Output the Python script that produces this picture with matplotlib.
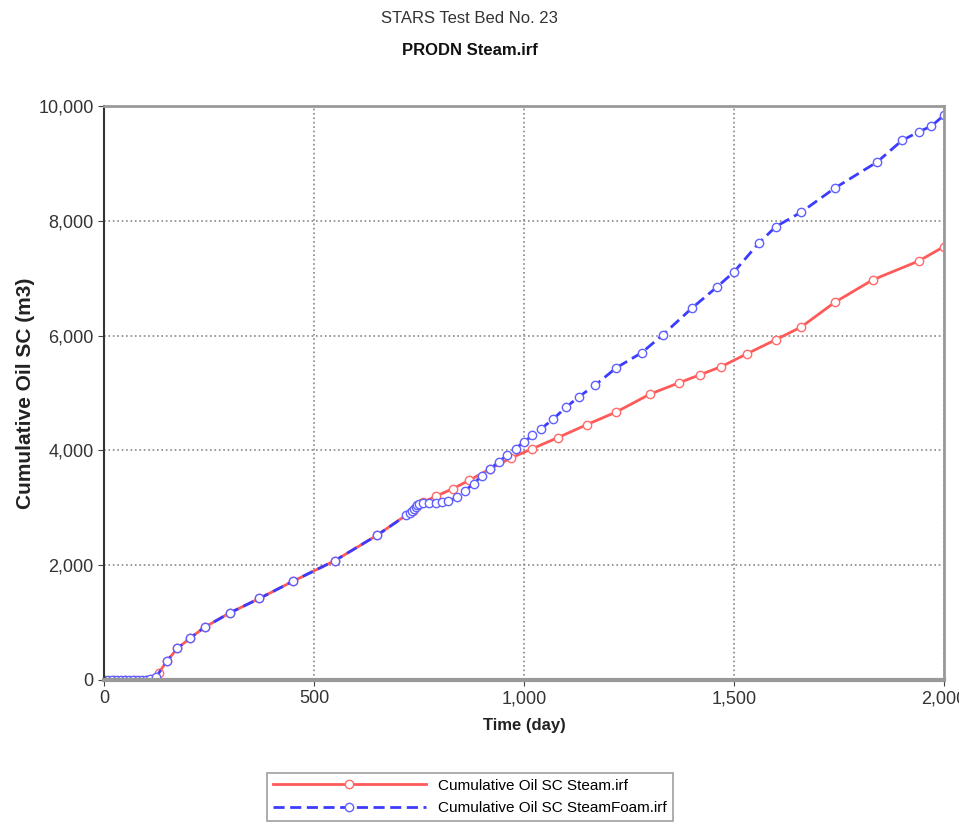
import matplotlib
matplotlib.use('Agg')
import matplotlib.pyplot as plt
from matplotlib.ticker import FuncFormatter, MultipleLocator

plt.rcParams['font.family'] = ['Liberation Sans', 'DejaVu Sans']

# Cumulative Oil SC Steam.irf
steam_t = [0, 25, 50, 75, 100, 115, 130, 150, 175, 205, 240, 300, 370, 450, 550, 650,
           735, 745, 760, 790, 830, 870, 920, 970, 1020, 1080, 1150, 1220, 1300,
           1370, 1420, 1470, 1530, 1600, 1660, 1740, 1830, 1940, 2000]
steam_v = [0, 0, 0, 0, 0, 20, 120, 330, 550, 730, 920, 1170, 1420, 1720, 2080, 2520,
           2950, 3030, 3100, 3200, 3330, 3480, 3680, 3870, 4030, 4220, 4450, 4670, 4980,
           5180, 5320, 5460, 5680, 5930, 6150, 6580, 6970, 7300, 7550]

# Cumulative Oil SC SteamFoam.irf
foam_t = [0, 10, 20, 30, 40, 50, 60, 70, 80, 90, 100, 110, 125, 150, 175, 205, 240,
          300, 370, 450, 550, 650, 720, 728, 734, 738, 742, 746, 750, 760, 775, 790,
          805, 820, 840, 860, 880, 900, 920, 940, 960, 980, 1000, 1020, 1040, 1070,
          1100, 1130, 1170, 1220, 1280, 1330, 1400, 1460, 1500, 1560, 1600, 1660,
          1740, 1840, 1900, 1940, 1970, 2000]
foam_v = [0, 0, 0, 0, 0, 0, 0, 0, 0, 0, 0, 10, 60, 330, 550, 730, 920,
          1170, 1420, 1720, 2080, 2520, 2870, 2910, 2950, 2980, 3010, 3040, 3060, 3080, 3090, 3090,
          3100, 3110, 3180, 3300, 3420, 3560, 3680, 3800, 3920, 4030, 4150, 4260, 4370, 4550,
          4750, 4930, 5140, 5440, 5700, 6010, 6480, 6850, 7110, 7620, 7900, 8150,
          8570, 9020, 9400, 9550, 9650, 9840]

fig = plt.figure(figsize=(9.59, 8.26), dpi=100)
ax = fig.add_axes([0.1084, 0.1768, 0.876, 0.6949])

ax.plot(steam_t, steam_v, color='#ff5a5a', lw=2, marker='o', ms=6,
        mfc='white', mec='#ff6a6a', mew=1, label='Cumulative Oil SC Steam.irf')
ax.plot(foam_t, foam_v, color='#3c3cff', lw=2, ls='--', dashes=(4, 2), marker='o', ms=6,
        mfc='white', mec='#6060ff', mew=1, label='Cumulative Oil SC SteamFoam.irf')

ax.set_xlim(0, 2000)
ax.set_ylim(0, 10000)
ax.xaxis.set_major_locator(MultipleLocator(500))
ax.yaxis.set_major_locator(MultipleLocator(2000))
fmt = FuncFormatter(lambda v, p: f'{int(v):,}')
ax.xaxis.set_major_formatter(fmt)
ax.yaxis.set_major_formatter(fmt)
ax.tick_params(labelsize=13, labelcolor='#333333', length=4, color='#444444')

ax.grid(True, ls=':', color='#888888', lw=1.2)
ax.set_axisbelow(True)
for s in ['top', 'right']:
    ax.spines[s].set_color('#999999')
    ax.spines[s].set_linewidth(2)
ax.spines['bottom'].set_color('#999999')
ax.spines['bottom'].set_linewidth(3)
ax.spines['left'].set_color('#333333')
ax.spines['left'].set_linewidth(1.5)

ax.set_xlabel('Time (day)', fontsize=12, fontweight='bold', color='#222222', labelpad=8)
ax.set_ylabel('Cumulative Oil SC (m3)', fontsize=15, fontweight='bold', color='#222222', labelpad=2)

fig.text(0.49, 0.978, 'STARS Test Bed No. 23', ha='center', va='center', fontsize=12, color='#333333')
fig.text(0.49, 0.939, 'PRODN Steam.irf', ha='center', va='center', fontsize=12,
         fontweight='bold', color='#111111')

leg = fig.legend(loc='upper center', bbox_to_anchor=(0.49, 0.074), fontsize=11,
                 handlelength=10, fancybox=False, edgecolor='#888888', borderpad=0.4,
                 labelspacing=0.55)
leg.get_frame().set_linewidth(1.2)

fig.savefig('out.png', dpi=100, facecolor='white')
